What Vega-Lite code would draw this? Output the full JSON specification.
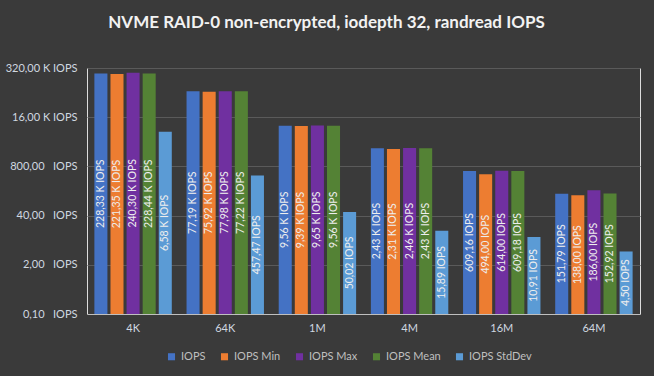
{
  "$schema": "https://vega.github.io/schema/vega-lite/v6.json",
  "width": 553,
  "height": 246,
  "autosize": "none",
  "padding": {"left": 87, "top": 68, "right": 14, "bottom": 62},
  "background": "#3a3a3a",
  "title": {
    "text": "NVME RAID-0 non-encrypted, iodepth 32, randread IOPS",
    "anchor": "middle",
    "dx": -37,
    "offset": 30,
    "font": "Lato",
    "fontSize": 17,
    "fontWeight": "bold",
    "color": "#f2f2f2"
  },
  "data": {
    "values": [
      {"size": "4K", "series": "IOPS", "value": 228330},
      {"size": "4K", "series": "IOPS Min", "value": 221350},
      {"size": "4K", "series": "IOPS Max", "value": 240300},
      {"size": "4K", "series": "IOPS Mean", "value": 228440},
      {"size": "4K", "series": "IOPS StdDev", "value": 6580},
      {"size": "64K", "series": "IOPS", "value": 77190},
      {"size": "64K", "series": "IOPS Min", "value": 75920},
      {"size": "64K", "series": "IOPS Max", "value": 77980},
      {"size": "64K", "series": "IOPS Mean", "value": 77220},
      {"size": "64K", "series": "IOPS StdDev", "value": 457.47},
      {"size": "1M", "series": "IOPS", "value": 9560},
      {"size": "1M", "series": "IOPS Min", "value": 9390},
      {"size": "1M", "series": "IOPS Max", "value": 9650},
      {"size": "1M", "series": "IOPS Mean", "value": 9560},
      {"size": "1M", "series": "IOPS StdDev", "value": 50.02},
      {"size": "4M", "series": "IOPS", "value": 2430},
      {"size": "4M", "series": "IOPS Min", "value": 2310},
      {"size": "4M", "series": "IOPS Max", "value": 2460},
      {"size": "4M", "series": "IOPS Mean", "value": 2430},
      {"size": "4M", "series": "IOPS StdDev", "value": 15.89},
      {"size": "16M", "series": "IOPS", "value": 609.16},
      {"size": "16M", "series": "IOPS Min", "value": 494.0},
      {"size": "16M", "series": "IOPS Max", "value": 614.0},
      {"size": "16M", "series": "IOPS Mean", "value": 609.18},
      {"size": "16M", "series": "IOPS StdDev", "value": 10.91},
      {"size": "64M", "series": "IOPS", "value": 151.79},
      {"size": "64M", "series": "IOPS Min", "value": 138.0},
      {"size": "64M", "series": "IOPS Max", "value": 186.0},
      {"size": "64M", "series": "IOPS Mean", "value": 152.92},
      {"size": "64M", "series": "IOPS StdDev", "value": 4.5}
    ]
  },
  "transform": [
    {"calculate": "datum.value >= 1000 ? replace(format(datum.value/1000, '.2f'), '.', ',') + ' K IOPS' : replace(format(datum.value, '.2f'), '.', ',') + ' IOPS'", "as": "lbl"},
    {"calculate": "sqrt(0.1 * datum.value)", "as": "mid"}
  ],
  "encoding": {
    "x": {
      "field": "size",
      "type": "nominal",
      "sort": ["4K", "64K", "1M", "4M", "16M", "64M"],
      "scale": {"paddingInner": 0.16, "paddingOuter": 0.08},
      "axis": {
        "title": null,
        "labelAngle": 0,
        "ticks": false,
        "domainColor": "#bfbfbf",
        "domainWidth": 1,
        "labelColor": "#d0d8e0",
        "labelFont": "Lato",
        "labelFontSize": 11,
        "labelPadding": 8
      }
    },
    "xOffset": {
      "field": "series",
      "type": "nominal",
      "sort": ["IOPS", "IOPS Min", "IOPS Max", "IOPS Mean", "IOPS StdDev"],
      "scale": {"paddingInner": 0.19, "paddingOuter": 0}
    }
  },
  "layer": [
    {
      "mark": {"type": "bar"},
      "encoding": {
        "y": {
          "field": "value",
          "type": "quantitative",
          "scale": {"type": "log", "base": 20, "domain": [0.1, 320000], "nice": false},
          "axis": {
            "title": null,
            "values": [0.1, 2, 40, 800, 16000, 320000],
            "labelExpr": "datum.value >= 1000 ? replace(format(datum.value/1000, '.2f'), '.', ',') + ' K IOPS' : replace(format(datum.value, '.2f'), '.', ',') + '\u00a0\u00a0 IOPS'",
            "domain": false,
            "ticks": false,
            "grid": true,
            "gridColor": "#5a5a5a",
            "gridWidth": 1,
            "labelColor": "#d0d8e0",
            "labelFont": "Lato",
            "labelFontSize": 11,
            "labelPadding": 10
          }
        },
        "y2": {"datum": 0.1},
        "color": {
          "field": "series",
          "type": "nominal",
          "sort": ["IOPS", "IOPS Min", "IOPS Max", "IOPS Mean", "IOPS StdDev"],
          "scale": {
            "domain": ["IOPS", "IOPS Min", "IOPS Max", "IOPS Mean", "IOPS StdDev"],
            "range": ["#4472C4", "#ED7D31", "#7030A0", "#548235", "#5B9BD5"]
          },
          "legend": {
            "title": null,
            "orient": "none",
            "direction": "horizontal",
            "legendX": 79,
            "legendY": 283,
            "symbolType": "square",
            "symbolSize": 50,
            "symbolStrokeWidth": 0,
            "labelColor": "#bfbfbf",
            "labelFont": "Lato",
            "labelFontSize": 11,
            "columnPadding": 13,
            "labelOffset": 4
          }
        }
      }
    },
    {
      "mark": {"type": "text", "angle": 270, "align": "center", "baseline": "middle", "color": "#eeeeee", "font": "Lato", "fontSize": 10.5},
      "encoding": {
        "y": {"field": "mid", "type": "quantitative"},
        "text": {"field": "lbl", "type": "nominal"}
      }
    }
  ]
}
